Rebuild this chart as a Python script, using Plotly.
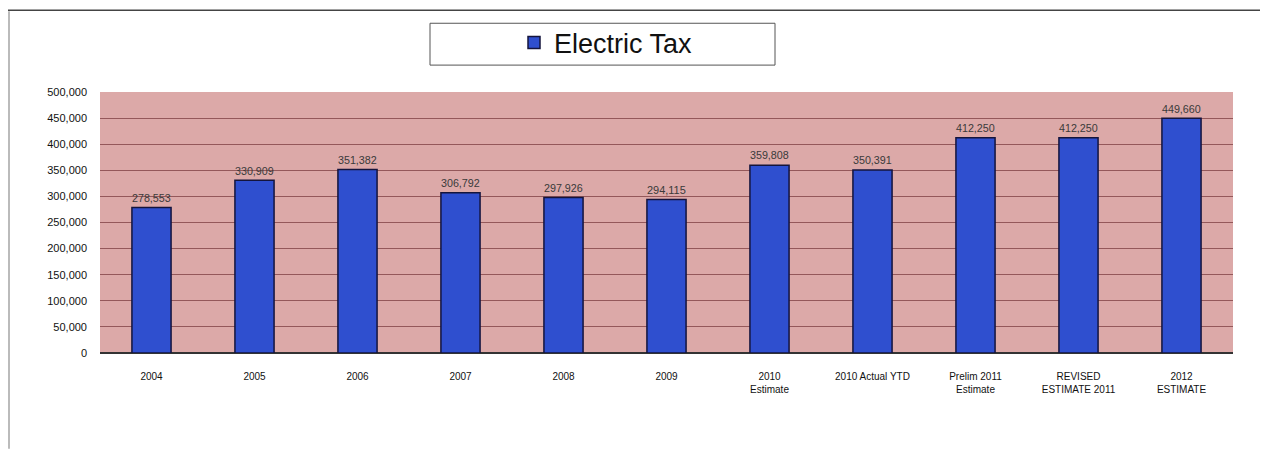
import plotly.graph_objects as go

categories = ["2004", "2005", "2006", "2007", "2008", "2009", "2010<br>Estimate",
              "2010 Actual YTD", "Prelim 2011<br>Estimate", "REVISED<br>ESTIMATE 2011",
              "2012<br>ESTIMATE"]
values = [278553, 330909, 351382, 306792, 297926, 294115, 359808, 350391,
          412250, 412250, 449660]
tick_vals = [0, 50000, 100000, 150000, 200000, 250000, 300000, 350000, 400000, 450000, 500000]
tick_text = ["0", "50,000", "100,000", "150,000", "200,000", "250,000", "300,000",
             "350,000", "400,000", "450,000", "500,000"]
labels = [f"{v:,}" for v in values]

OFF = 8  # page body margin
W, H = 1268 - OFF, 449 - OFF
# plot area in reference pixels: x 100..1233, y 91..353
L, R, T, B = 100 - OFF, 1268 - 1233, 91 - OFF, 449 - 353
pw, ph = W - L - R, H - T - B

def px(x):
    return (x - OFF - L) / pw

def py(y):
    return (H - B - (y - OFF)) / ph

fig = go.Figure()
fig.add_trace(go.Bar(
    x=categories, y=values, name="Electric Tax",
    marker=dict(color="#2f4fcf", line=dict(color="#14143c", width=1.5)),
    text=labels, textposition="outside", cliponaxis=False,
    textfont=dict(family="Liberation Sans", size=12, color="#3a3a3a"),
    width=0.38,
))

shapes = [
    # legend box
    dict(type="rect", xref="paper", yref="paper", x0=px(430), x1=px(775),
         y0=py(64), y1=py(22), line=dict(color="#555555", width=1), fillcolor="white", layer="below"),
    # top border line
    dict(type="line", xref="paper", yref="paper", x0=px(8), x1=px(1268),
         y0=py(9), y1=py(9), line=dict(color="#444444", width=1.5)),
    # left border line
    dict(type="line", xref="paper", yref="paper", x0=px(9), x1=px(9),
         y0=py(10), y1=py(449), line=dict(color="#bbbbbb", width=2)),
]

fig.update_layout(
    width=W, height=H,
    margin=dict(l=L, r=R, t=T, b=B),
    paper_bgcolor="white",
    plot_bgcolor="#dca9a8",
    font=dict(family="Liberation Sans", color="#111111"),
    showlegend=True,
    legend=dict(x=px(606), y=py(43), xanchor="center", yanchor="middle",
                orientation="h", bgcolor="rgba(0,0,0,0)",
                font=dict(family="Liberation Sans", size=27, color="#111111"),
                itemwidth=30),
    shapes=shapes,
)
fig.update_xaxes(
    showgrid=False, showline=True, linecolor="#333333", linewidth=1,
    tickfont=dict(family="Liberation Sans", size=10, color="#111111"),
    ticks="", tickangle=0, ticklabelstandoff=14,
)
fig.update_yaxes(
    range=[0, 500000], tickvals=tick_vals, ticktext=tick_text,
    showgrid=True, gridcolor="#94585a", gridwidth=1,
    showline=False, zeroline=True, zerolinecolor="#333333",
    tickfont=dict(family="Liberation Sans", size=11, color="#111111"),
    ticks="", ticklabelstandoff=12,
)

fig.write_html("out.html")
